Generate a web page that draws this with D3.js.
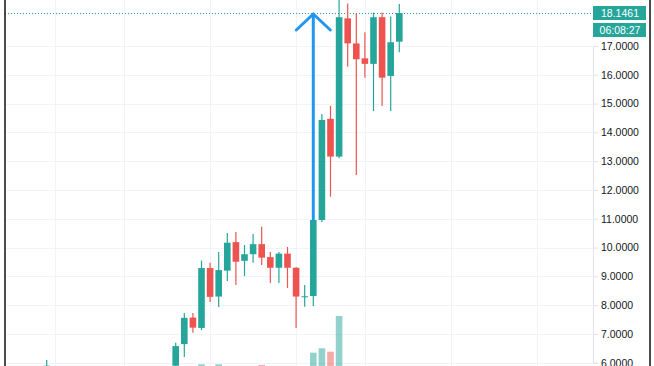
<!DOCTYPE html>
<html>
<head>
<meta charset="utf-8">
<script src="https://cdn.jsdelivr.net/npm/d3@7"></script>
<style>
  html, body { margin: 0; padding: 0; background: #fff; }
  svg { display: block; }
</style>
</head>
<body>
<svg id="chart" width="654" height="366"></svg>
<script>
// ---- data ----
const barIndex = [-15, 0, 1, 2, 3, 4, 5, 6, 7, 8, 9, 10, 11, 12, 13, 14, 15, 16, 17, 18, 19, 20, 21, 22, 23, 24, 25, 26];
const openV  = [5.70, 5.90, 6.65, 7.57, 7.21, 9.29, 8.30, 9.20, 10.19, 9.54, 9.77, 10.12, 9.67, 9.30, 9.79, 9.30, 8.28, 8.32, 10.96, 14.47, 13.16, 17.96, 17.09, 16.57, 16.38, 18.00, 15.96, 17.15];
const highV  = [6.10, 6.70, 7.73, 7.73, 9.55, 9.47, 9.85, 10.51, 10.54, 10.09, 10.47, 10.72, 9.85, 9.85, 10.02, 9.33, 8.70, 11.03, 14.64, 14.92, 18.75, 18.48, 18.14, 17.48, 18.16, 18.16, 18.02, 18.46];
const lowV   = [5.60, 5.85, 6.20, 7.04, 7.14, 8.11, 7.94, 8.84, 8.70, 9.01, 9.47, 9.40, 8.77, 8.77, 8.60, 7.21, 7.95, 7.97, 10.89, 11.77, 13.10, 16.28, 12.52, 15.90, 14.74, 14.92, 14.74, 16.78];
const closeV = [5.90, 6.58, 7.56, 7.22, 9.29, 8.29, 9.22, 10.17, 9.51, 9.77, 10.12, 9.65, 9.30, 9.79, 9.30, 8.30, 8.31, 10.96, 14.43, 13.16, 18.00, 17.09, 16.54, 16.38, 18.00, 15.90, 17.13, 18.146];
const volumeV = [6, 9, 11, 10, 15.7, 12, 15.7, 12, 11, 10, 12, 15, 9, 10, 11, 12, 9, 27.3, 31.7, 28.3, 64, 12, 10, 8, 9, 10, 8, 7];
const priceTicks = [6, 7, 8, 9, 10, 11, 12, 13, 14, 15, 16, 17];
const lastPrice = 18.1461;
const countdown = "06:08:27";
const timeGrid = [-14, -6, 4, 14, 22, 32, 42];

// ---- layout ----
const W = 654, H = 366;
const plotRight = 593;
const UP = "#26a69a", DOWN = "#ef5350";

const svg = d3.select("#chart");

const x = d3.scaleLinear().domain([-20, 48]).range([3.7, 588.5]);
const y = d3.scaleLinear().domain([6, 17]).range([362.8, 46]);
const yVol = d3.scaleLinear().domain([0, 80]).range([380, 300]);

const bars = barIndex.map((b, i) => ({
  b, o: openV[i], h: highV[i], l: lowV[i], c: closeV[i], v: volumeV[i]
}));

svg.append("defs").append("clipPath").attr("id", "plotClip")
  .append("rect").attr("x", 5).attr("y", 0).attr("width", plotRight - 5).attr("height", H);

// grid
const grid = svg.append("g").attr("clip-path", "url(#plotClip)");
grid.selectAll("line.h").data(priceTicks).join("line")
  .attr("x1", 5).attr("x2", plotRight)
  .attr("y1", d => Math.round(y(d)) + 0.5).attr("y2", d => Math.round(y(d)) + 0.5)
  .attr("stroke", "#f0f3fa").attr("stroke-width", 1);
grid.selectAll("line.v").data(timeGrid).join("line")
  .attr("x1", d => Math.round(x(d)) + 0.5).attr("x2", d => Math.round(x(d)) + 0.5)
  .attr("y1", 0).attr("y2", H)
  .attr("stroke", "#f0f3fa").attr("stroke-width", 1);

const plot = svg.append("g").attr("clip-path", "url(#plotClip)");

// volume
const bw = 6.6;
plot.selectAll("rect.vol").data(bars).join("rect")
  .attr("x", d => x(d.b) - bw / 2)
  .attr("width", bw)
  .attr("y", d => yVol(d.v))
  .attr("height", d => yVol(0) - yVol(d.v))
  .attr("fill", d => d.c >= d.o ? UP : DOWN)
  .attr("fill-opacity", 0.5);

// last price dotted line
plot.append("line")
  .attr("x1", 5).attr("x2", plotRight)
  .attr("y1", Math.round(y(lastPrice)) + 0.5).attr("y2", Math.round(y(lastPrice)) + 0.5)
  .attr("stroke", UP).attr("stroke-width", 1).attr("stroke-dasharray", "1,2");

// wicks
plot.selectAll("line.wick").data(bars).join("line")
  .attr("x1", d => x(d.b)).attr("x2", d => x(d.b))
  .attr("y1", d => y(d.h)).attr("y2", d => y(d.l))
  .attr("stroke", d => d.c >= d.o ? UP : DOWN)
  .attr("stroke-width", 1.2);

// bodies
plot.selectAll("rect.body").data(bars).join("rect")
  .attr("x", d => x(d.b) - bw / 2)
  .attr("width", bw)
  .attr("y", d => y(Math.max(d.o, d.c)))
  .attr("height", d => Math.max(1, Math.abs(y(d.o) - y(d.c))))
  .attr("fill", d => d.c >= d.o ? UP : DOWN);

// blue arrow annotation
const arrowBar = bars.find(d => d.b === 16);
const ax = x(arrowBar.b);
const tipY = y(18.11);
const arrow = svg.append("g")
  .attr("stroke", "#2196f3").attr("stroke-width", 3)
  .attr("fill", "none").attr("stroke-linecap", "round").attr("stroke-linejoin", "round");
arrow.append("line").attr("x1", ax).attr("x2", ax).attr("y1", y(arrowBar.c) - 1).attr("y2", tipY);
arrow.append("polyline")
  .attr("points", `${ax - 17},${tipY + 16} ${ax},${tipY} ${ax + 17},${tipY + 16}`);

// price axis
const axis = d3.axisRight(y)
  .tickValues(priceTicks)
  .tickFormat(d3.format(".4f"))
  .tickSize(5)
  .tickPadding(3);
const axG = svg.append("g").attr("transform", `translate(${plotRight},0)`).call(axis);
axG.select(".domain").attr("stroke", "#e0e3eb");
axG.selectAll(".tick line").attr("stroke", "#e0e3eb");
axG.selectAll(".tick text")
  .attr("fill", "#131722")
  .style("font-family", "'Liberation Sans', Arial, sans-serif")
  .style("font-size", "10.5px");

// last price label + countdown
const lbl = svg.append("g");
const ly = y(lastPrice);
lbl.append("rect").attr("x", plotRight).attr("y", ly - 7).attr("width", 53).attr("height", 14).attr("fill", UP);
lbl.append("text").attr("x", plotRight + 27).attr("y", ly).attr("dy", "0.35em")
  .attr("text-anchor", "middle").attr("fill", "#fff")
  .style("font-family", "'Liberation Sans', Arial, sans-serif").style("font-size", "10.5px")
  .text(d3.format(".4f")(lastPrice));
lbl.append("rect").attr("x", plotRight).attr("y", ly + 10).attr("width", 53).attr("height", 14).attr("fill", UP);
lbl.append("text").attr("x", plotRight + 27).attr("y", ly + 17).attr("dy", "0.35em")
  .attr("text-anchor", "middle").attr("fill", "#fff")
  .style("font-family", "'Liberation Sans', Arial, sans-serif").style("font-size", "10.5px")
  .text(countdown);

// frame lines
svg.append("line").attr("x1", 5).attr("x2", 5).attr("y1", 0).attr("y2", H)
  .attr("stroke", "#111").attr("stroke-width", 1.5);
svg.append("line").attr("x1", 650).attr("x2", 650).attr("y1", 0).attr("y2", H)
  .attr("stroke", "#111").attr("stroke-width", 1.5);
</script>
</body>
</html>
